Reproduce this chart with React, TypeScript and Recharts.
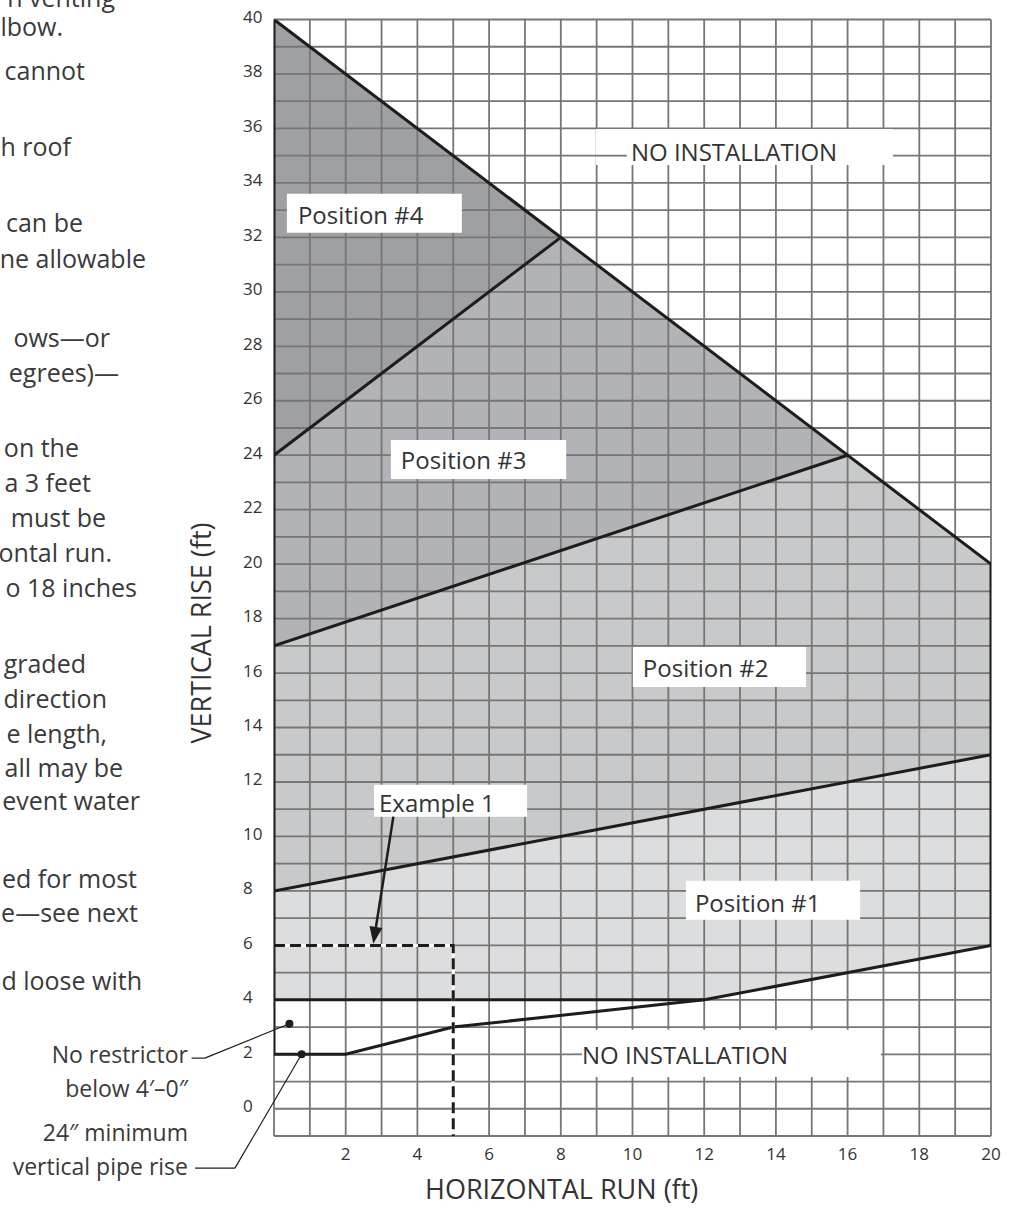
import React from 'react'
import {
  ComposedChart,
  Area,
  Line,
  XAxis,
  YAxis,
  CartesianGrid,
  ReferenceArea,
  ReferenceLine,
  ReferenceDot,
} from 'recharts'

const FONT = '"Open Sans", "Noto Sans", sans-serif'
const INK = '#333333'
const RULE = '#1d1d1d'
const GRID = '#767676'

// grid every foot, labels every other foot
const runGrid = [0, 1, 2, 3, 4, 5, 6, 7, 8, 9, 10, 11, 12, 13, 14, 15, 16, 17, 18, 19, 20]
const riseGrid = [
  0, 1, 2, 3, 4, 5, 6, 7, 8, 9, 10, 11, 12, 13, 14, 15, 16, 17, 18, 19, 20,
  21, 22, 23, 24, 25, 26, 27, 28, 29, 30, 31, 32, 33, 34, 35, 36, 37, 38, 39, 40,
]
const runLabels = [2, 4, 6, 8, 10, 12, 14, 16, 18, 20]
const riseLabels = [0, 2, 4, 6, 8, 10, 12, 14, 16, 18, 20, 22, 24, 26, 28, 30, 32, 34, 36, 38, 40]

// restrictor position zones (run stops, floor and ceiling rise at each stop)
const pos1Run = [0, 12, 20]
const pos1Floor = [4, 4, 6]
const pos1Ceiling = [8, 11, 13]

const pos2Run = [0, 16, 20]
const pos2Floor = [8, 12, 13]
const pos2Ceiling = [17, 24, 20]

const pos3Run = [0, 8, 16]
const pos3Floor = [17, 20.5, 24]
const pos3Ceiling = [24, 32, 24]

const pos4Run = [0, 8]
const pos4Floor = [24, 32]
const pos4Ceiling = [40, 32]

// boundary lines
const roofRun = [0, 20]
const roofRise = [40, 20]
const edge34Run = [0, 8]
const edge34Rise = [24, 32]
const edge23Run = [0, 16]
const edge23Rise = [17, 24]
const edge12Run = [0, 20]
const edge12Rise = [8, 13]
const wallRun = [20, 20]
const wallRise = [6, 20]
const leftRun = [0, 0]
const leftRise = [2, 40]
const restrictorRun = [0, 12]
const restrictorRise = [4, 4]
const minRiseRun = [0, 2, 5, 12, 20]
const minRiseRise = [2, 2, 3, 4, 6]

// example 1
const exampleRun = [0, 5, 5]
const exampleRise = [6, 6, -1]

const band = (run: number[], lo: number[], hi: number[]) =>
  run.map((x, i) => ({ x, band: [lo[i], hi[i]] }))
const path = (run: number[], rise: number[]) => run.map((x, i) => ({ x, y: rise[i] }))

const zones = [
  { key: 'p4', data: band(pos4Run, pos4Floor, pos4Ceiling), fill: '#9fa0a4' },
  { key: 'p3', data: band(pos3Run, pos3Floor, pos3Ceiling), fill: '#b2b3b6' },
  { key: 'p2', data: band(pos2Run, pos2Floor, pos2Ceiling), fill: '#c8c9cb' },
  { key: 'p1', data: band(pos1Run, pos1Floor, pos1Ceiling), fill: '#dcdddf' },
]

const rules = [
  path(roofRun, roofRise),
  path(edge34Run, edge34Rise),
  path(edge23Run, edge23Rise),
  path(edge12Run, edge12Rise),
  path(wallRun, wallRise),
  path(leftRun, leftRise),
  path(restrictorRun, restrictorRise),
  path(minRiseRun, minRiseRise),
]

// white label boxes, in chart units
const boxes = [
  { text: 'Position #4', x: [0.36, 5.24], y: [32.17, 33.6], pad: 11, dy: 1.5 },
  { text: 'Position #3', x: [3.26, 8.15], y: [23.13, 24.56], pad: 10, dy: 0.5 },
  { text: 'Position #2', x: [10.01, 14.84], y: [15.49, 16.96], pad: 10, dy: 1 },
  { text: 'Position #1', x: [11.49, 16.35], y: [6.94, 8.37], pad: 9, dy: 2 },
  { text: 'Example 1', x: [2.79, 7.06], y: [10.72, 11.9], pad: 5, dy: 2 },
  { text: 'NO INSTALLATION', x: [8.98, 17.27], y: [34.66, 35.98], pad: 35, dy: 5 },
  { text: 'NO INSTALLATION', x: [8.34, 16.93], y: [1.17, 2.9], pad: 9, dy: 1.5 },
]

// the page text that runs off the left edge of the figure
const sideCopy = [
  { t: 'n venting', r: 115, b: 7 },
  { t: 'lbow.', r: 63, b: 36 },
  { t: 'cannot', r: 85, b: 80 },
  { t: 'h roof', r: 71, b: 156 },
  { t: 'can be', r: 83, b: 232 },
  { t: 'ne allowable', r: 146, b: 268 },
  { t: 'ows—or', r: 110, b: 347 },
  { t: 'egrees)—', r: 119, b: 382 },
  { t: 'on the', r: 79, b: 457 },
  { t: 'a 3 feet', r: 91, b: 492 },
  { t: 'must be', r: 106, b: 527 },
  { t: 'ontal run.', r: 112, b: 562 },
  { t: 'o 18 inches', r: 137, b: 597 },
  { t: 'graded', r: 86, b: 673 },
  { t: 'direction', r: 107, b: 708 },
  { t: 'e length,', r: 107, b: 743 },
  { t: 'all may be', r: 123, b: 777 },
  { t: 'event water', r: 140, b: 810 },
  { t: 'ed for most', r: 137, b: 888 },
  { t: 'e—see next', r: 138, b: 922 },
  { t: 'd loose with', r: 142, b: 990 },
]

const callouts = [
  { t: 'No restrictor', r: 188, b: 1063 },
  { t: 'below 4′–0″', r: 188, b: 1097 },
  { t: '24″ minimum', r: 188, b: 1141 },
  { t: 'vertical pipe rise', r: 188, b: 1175 },
]

function RunTick({ x, y, payload }: any) {
  if (!runLabels.includes(payload.value)) return <g />
  return (
    <text x={x} y={y + 17} textAnchor="middle" dominantBaseline="central" fontSize={17} fill={INK} fontFamily={FONT}>
      {payload.value}
    </text>
  )
}

function RiseTick({ y, payload }: any) {
  if (!riseLabels.includes(payload.value)) return <g />
  return (
    <text x={243} y={y - 3} textAnchor="start" dominantBaseline="central" fontSize={17} fill={INK} fontFamily={FONT}>
      {payload.value}
    </text>
  )
}

function BoxText({ viewBox, text, pad, dy }: any) {
  if (!viewBox) return null
  return (
    <text
      x={viewBox.x + pad}
      y={viewBox.y + viewBox.height / 2 + dy}
      dominantBaseline="central"
      fontSize={24}
      fill={INK}
      fontFamily={FONT}
    >
      {text}
    </text>
  )
}

function Arrow(props: any) {
  const { x1, y1, x2, y2 } = props
  const dx = x2 - x1
  const dy = y2 - y1
  const len = Math.hypot(dx, dy) || 1
  const ux = dx / len
  const uy = dy / len
  const bx = x2 - ux * 17
  const by = y2 - uy * 17
  const px = -uy * 6.5
  const py = ux * 6.5
  return (
    <g>
      <line x1={x1} y1={y1} x2={bx} y2={by} stroke={RULE} strokeWidth={2.5} />
      <polygon points={`${x2},${y2} ${bx + px},${by + py} ${bx - px},${by - py}`} fill={RULE} />
    </g>
  )
}

export default function App() {
  return (
    <div style={{ position: 'absolute', left: 0, top: 0, width: 1016, height: 1207, overflow: 'hidden', background: '#fff' }}>
      <ComposedChart width={1016} height={1207} margin={{ top: 19.5, right: 25, bottom: 0, left: 0 }}>
        <XAxis
          type="number"
          dataKey="x"
          domain={[0, 20]}
          ticks={runGrid}
          interval={0}
          allowDataOverflow
          height={71}
          axisLine={false}
          tickLine={false}
          tickSize={0}
          tickMargin={0}
          tick={<RunTick />}
        />
        <YAxis
          type="number"
          domain={[-1, 40]}
          ticks={riseGrid}
          interval={0}
          allowDataOverflow
          width={274}
          axisLine={false}
          tickLine={false}
          tickSize={0}
          tickMargin={0}
          tick={<RiseTick />}
        />
        {zones.map((z) => (
          <Area
            key={z.key}
            data={z.data}
            dataKey="band"
            type="linear"
            fill={z.fill}
            fillOpacity={1}
            stroke="none"
            dot={false}
            activeDot={false}
            isAnimationActive={false}
          />
        ))}
        <CartesianGrid stroke={GRID} strokeWidth={1.8} zIndex={150} />
        {rules.map((d, i) => (
          <Line
            key={i}
            data={d}
            dataKey="y"
            type="linear"
            stroke={RULE}
            strokeWidth={3}
            dot={false}
            activeDot={false}
            isAnimationActive={false}
          />
        ))}
        <Line
          data={path(exampleRun, exampleRise)}
          dataKey="y"
          type="linear"
          stroke="#ffffff"
          strokeWidth={3}
          dot={false}
          activeDot={false}
          isAnimationActive={false}
        />
        <Line
          data={path(exampleRun, exampleRise)}
          dataKey="y"
          type="linear"
          stroke={RULE}
          strokeWidth={3}
          strokeDasharray="11 5"
          dot={false}
          activeDot={false}
          isAnimationActive={false}
        />
        {boxes.map((b, i) => (
          <ReferenceArea
            key={i}
            x1={b.x[0]}
            x2={b.x[1]}
            y1={b.y[0]}
            y2={b.y[1]}
            fill="#ffffff"
            fillOpacity={1}
            stroke="none"
            ifOverflow="visible"
            zIndex={600}
            label={<BoxText text={b.text} pad={b.pad} dy={b.dy} />}
          />
        ))}
        <ReferenceLine segment={[{ x: 8.98, y: 35 }, { x: 9.84, y: 35 }]} stroke={GRID} strokeWidth={1.8} ifOverflow="visible" zIndex={650} />
        <ReferenceLine segment={[{ x: 8.34, y: 2 }, { x: 8.59, y: 2 }]} stroke={GRID} strokeWidth={1.8} ifOverflow="visible" zIndex={650} />
        <ReferenceLine
          segment={[{ x: 3.33, y: 10.73 }, { x: 2.77, y: 6.06 }]}
          ifOverflow="visible"
          shape={<Arrow />}
          zIndex={650}
        />
        <ReferenceLine segment={[{ x: -2.3, y: 1.86 }, { x: -1.93, y: 1.86 }]} stroke={RULE} strokeWidth={1.2} ifOverflow="visible" zIndex={650} />
        <ReferenceLine segment={[{ x: -1.93, y: 1.86 }, { x: 0.43, y: 3.12 }]} stroke={RULE} strokeWidth={1.2} ifOverflow="visible" zIndex={650} />
        <ReferenceLine segment={[{ x: -2.2, y: -2.18 }, { x: -1.09, y: -2.18 }]} stroke={RULE} strokeWidth={1.2} ifOverflow="visible" zIndex={650} />
        <ReferenceLine segment={[{ x: -1.09, y: -2.18 }, { x: 0.77, y: 2 }]} stroke={RULE} strokeWidth={1.2} ifOverflow="visible" zIndex={650} />
        <ReferenceDot x={0.43} y={3.12} r={4} fill={RULE} stroke="none" zIndex={700} />
        <ReferenceDot x={0.77} y={2} r={4} fill={RULE} stroke="none" zIndex={700} />
      </ComposedChart>
      <svg width={1016} height={1207} style={{ position: 'absolute', left: 0, top: 0, pointerEvents: 'none' }}>
        {sideCopy.map((c, i) => (
          <text key={i} x={c.r} y={c.b} textAnchor="end" fontSize={25} fill="#3a3a3a" fontFamily={FONT}>
            {c.t}
          </text>
        ))}
        {callouts.map((c, i) => (
          <text key={i} x={c.r} y={c.b} textAnchor="end" fontSize={23} fill="#3a3a3a" fontFamily={FONT}>
            {c.t}
          </text>
        ))}
        <text
          x={200}
          y={633}
          transform="rotate(-90 200 633)"
          textAnchor="middle"
          dominantBaseline="central"
          fontSize={27}
          fill={INK}
          fontFamily={FONT}
        >
          VERTICAL RISE (ft)
        </text>
        <text x={425} y={1199} textAnchor="start" fontSize={27} fill={INK} fontFamily={FONT}>
          HORIZONTAL RUN (ft)
        </text>
      </svg>
    </div>
  )
}
